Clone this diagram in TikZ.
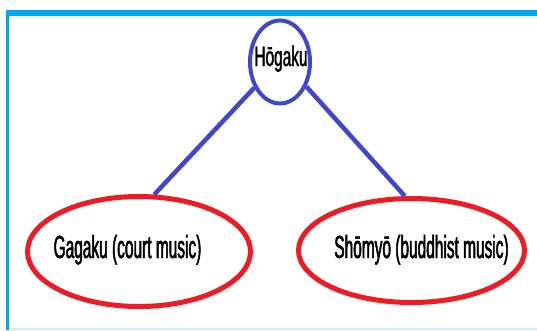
\documentclass[tikz,border=0pt]{standalone}
\usepackage{fontspec}
\usetikzlibrary{shapes.geometric}
\newfontfamily\narrowsans[FakeStretch=0.483,FakeBold=1.5]{Liberation Sans}
\newfontfamily\narrowsanstop[FakeStretch=0.55,FakeBold=1.5]{Liberation Sans}
\definecolor{framecyan}{HTML}{00A8EC}
\definecolor{paleline}{HTML}{CDEFF9}
\definecolor{nodeblue}{HTML}{3F48CC}
\definecolor{nodered}{HTML}{ED1C24}
\tikzset{
  rootnode/.style={draw=nodeblue, line width=4pt, ellipse, inner sep=0pt},
  leafnode/.style={draw=nodered, line width=5pt, ellipse, inner sep=0pt},
  conn/.style={draw=nodeblue, line width=4.5pt},
  lbl/.style={anchor=base, inner sep=0pt, font=\narrowsans\fontsize{32}{34}\selectfont},
}
\begin{document}
\begin{tikzpicture}[x=1pt,y=-1pt]
\useasboundingbox (0,0) rectangle (537,330);
\fill[white] (0,0) rectangle (537,330);
% frame
\fill[framecyan] (6,9.5) rectangle (537,16);
\fill[framecyan] (6,9.5) rectangle (9,330);
\draw[paleline, line width=1.5pt] (9,329) -- (537,329);
% nodes
\node[rootnode, minimum width=60pt, minimum height=83pt] (h) at (280,62) {};
\node[leafnode, minimum width=223pt, minimum height=110pt] (g) at (139,251.5) {};
\node[leafnode, minimum width=226pt, minimum height=104pt] (s) at (411.5,250.5) {};
% labels
\node[lbl, font=\narrowsanstop\fontsize{28}{30}\selectfont] (ht) at (281,66) {Hōgaku};
\node[lbl] (gt) at (127.5,258) {Gagaku (court music)};
\node[lbl] (st) at (421.5,258) {Shōmyō (buddhist music)};
% connectors
\draw[conn] (h.225) -- (g.75);
\draw[conn] (h.317) -- (s.97);
\end{tikzpicture}
\end{document}
